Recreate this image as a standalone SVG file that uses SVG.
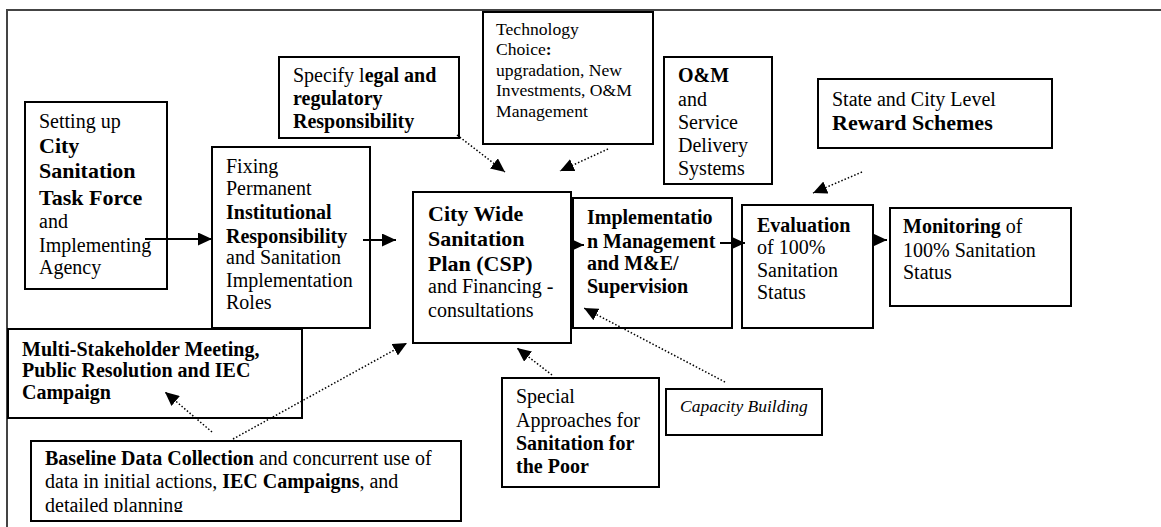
<svg xmlns="http://www.w3.org/2000/svg" width="1161" height="527" viewBox="0 0 1161 527">
<style>
.box{fill:#fff;stroke:#000;stroke-width:2}
text{font-family:"Liberation Serif","Times New Roman",serif;font-size:20px;fill:#000}
.b{font-weight:bold}
.big{font-size:22px}
.sm{font-size:17.6px}
.it{font-style:italic;font-size:17.5px}
.solid{stroke:#000;stroke-width:2;fill:none}
.dot{stroke:#000;stroke-width:1.5;stroke-dasharray:1.5 2;fill:none}
.frame{stroke:#444;stroke-width:2;fill:none}
</style>
<defs>
<marker id="ah" viewBox="0 0 14 13" refX="14" refY="6.5" markerWidth="14" markerHeight="13" markerUnits="userSpaceOnUse" orient="auto">
<path d="M0,0 L14,6.5 L0,13 z" fill="#000" stroke="none"/>
</marker>
<clipPath id="clipBase"><rect x="31" y="441" width="430" height="71"/></clipPath>
</defs>
<rect width="1161" height="527" fill="#fff"/>
<path class="frame" d="M7,527 V10 H1161"/>

<g id="taskforce">
<rect class="box" x="25" y="102" width="142" height="187"/>
<text x="39" y="128">Setting up</text>
<text x="39" y="153" class="b big">City</text>
<text x="39" y="178" class="b big">Sanitation</text>
<text x="39" y="205" class="b big">Task Force</text>
<text x="39" y="228">and</text>
<text x="39" y="252">Implementing</text>
<text x="39" y="274">Agency</text>
</g>

<g id="institutional">
<rect class="box" x="212" y="147" width="158" height="181"/>
<text x="226" y="173">Fixing</text>
<text x="226" y="195">Permanent</text>
<text x="226" y="219" class="b">Institutional</text>
<text x="226" y="243" class="b">Responsibility</text>
<text x="226" y="264">and Sanitation</text>
<text x="226" y="287">Implementation</text>
<text x="226" y="309">Roles</text>
</g>

<g id="legal">
<rect class="box" x="279" y="57" width="180" height="81"/>
<text x="293" y="82">Specify l<tspan class="b">egal and</tspan></text>
<text x="293" y="105" class="b">regulatory</text>
<text x="293" y="128" class="b">Responsibility</text>
</g>

<g id="technology">
<rect class="box" x="483" y="12" width="170" height="132"/>
<text x="496" y="35" class="sm">Technology</text>
<text x="496" y="55" class="sm">Choice<tspan class="b">:</tspan></text>
<text x="496" y="76" class="sm">upgradation, New</text>
<text x="496" y="96" class="sm">Investments, O&amp;M</text>
<text x="496" y="117" class="sm">Management</text>
</g>

<g id="om">
<rect class="box" x="664" y="57" width="108" height="127"/>
<text x="678" y="82" class="b">O&amp;M</text>
<text x="678" y="106">and</text>
<text x="678" y="129">Service</text>
<text x="678" y="152">Delivery</text>
<text x="678" y="175">Systems</text>
</g>

<g id="reward">
<rect class="box" x="818" y="79" width="234" height="69"/>
<text x="832" y="106">State and City Level</text>
<text x="832" y="130" class="b big">Reward Schemes</text>
</g>

<g id="csp">
<rect class="box" x="413" y="192" width="158" height="151"/>
<text x="428" y="221" class="b big">City Wide</text>
<text x="428" y="246" class="b big">Sanitation</text>
<text x="428" y="271" class="b big">Plan (CSP)</text>
<text x="428" y="293">and Financing -</text>
<text x="428" y="317">consultations</text>
</g>

<g id="implementation">
<rect class="box" x="573" y="198" width="159" height="130"/>
<text x="587" y="224" class="b">Implementatio</text>
<text x="587" y="248" class="b">n Management</text>
<text x="587" y="270" class="b">and M&amp;E/</text>
<text x="587" y="293" class="b">Supervision</text>
</g>

<g id="evaluation">
<rect class="box" x="742" y="205" width="131" height="123"/>
<text x="757" y="232" class="b">Evaluation</text>
<text x="757" y="254">of 100%</text>
<text x="757" y="277">Sanitation</text>
<text x="757" y="299">Status</text>
</g>

<g id="monitoring">
<rect class="box" x="890" y="208" width="181" height="98"/>
<text x="903" y="233"><tspan class="b">Monitoring</tspan> of</text>
<text x="903" y="257">100% Sanitation</text>
<text x="903" y="279">Status</text>
</g>

<g id="stakeholder">
<rect class="box" x="8" y="329" width="294" height="89"/>
<text x="22" y="356" class="b">Multi-Stakeholder Meeting,</text>
<text x="22" y="377" class="b">Public Resolution and IEC</text>
<text x="22" y="399" class="b">Campaign</text>
</g>

<g id="baseline">
<rect class="box" x="31" y="441" width="430" height="80"/>
<g clip-path="url(#clipBase)">
<text x="45" y="465"><tspan class="b">Baseline Data Collection</tspan> and concurrent use of</text>
<text x="45" y="488">data in initial actions, <tspan class="b">IEC Campaigns</tspan>, and</text>
<text x="45" y="512">detailed planning</text>
</g>
</g>

<g id="poor">
<rect class="box" x="502" y="378" width="157" height="109"/>
<text x="516" y="403">Special</text>
<text x="516" y="427">Approaches for</text>
<text x="516" y="450" class="b">Sanitation for</text>
<text x="516" y="473" class="b">the Poor</text>
</g>

<g id="capacity">
<rect class="box" x="666" y="389" width="156" height="46"/>
<text x="680" y="412" class="it">Capacity Building</text>
</g>

<g id="connectors">
<line class="solid" x1="145" y1="239" x2="212" y2="239" marker-end="url(#ah)"/>
<line class="solid" x1="363" y1="240" x2="396" y2="240" marker-end="url(#ah)"/>
<line class="solid" x1="571" y1="245" x2="584" y2="245" marker-end="url(#ah)"/>
<line class="solid" x1="720" y1="243" x2="745" y2="243" marker-end="url(#ah)"/>
<line class="solid" x1="872" y1="240" x2="887" y2="240" marker-end="url(#ah)"/>
<line class="dot" x1="457" y1="135" x2="505" y2="172" marker-end="url(#ah)"/>
<line class="dot" x1="608" y1="149" x2="560" y2="171" marker-end="url(#ah)"/>
<line class="dot" x1="862" y1="172" x2="813" y2="193" marker-end="url(#ah)"/>
<line class="dot" x1="725" y1="382" x2="584" y2="308" marker-end="url(#ah)"/>
<line class="dot" x1="552" y1="375" x2="517" y2="348" marker-end="url(#ah)"/>
<line class="dot" x1="233" y1="439" x2="407" y2="343" marker-end="url(#ah)"/>
<line class="dot" x1="212" y1="432" x2="165" y2="392" marker-end="url(#ah)"/>
</g>
</svg>
